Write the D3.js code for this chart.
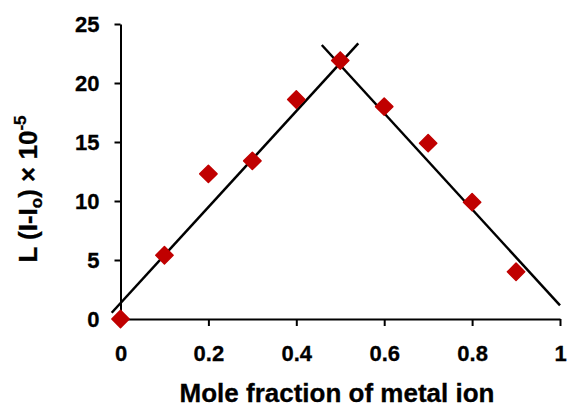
<!DOCTYPE html>
<html>
<head>
<meta charset="utf-8">
<script src="https://cdn.jsdelivr.net/npm/d3@7"></script>
<style>
  html, body { margin: 0; padding: 0; background: #fff; }
  svg { display: block; }
  text { font-family: "Liberation Sans", Arial, sans-serif; font-weight: bold; fill: #000; stroke: #000; stroke-width: 0.3; }
</style>
</head>
<body>
<svg id="chart" width="569" height="410"></svg>
<script>
// Job's plot: mole fraction of metal ion vs. L(I - Io) x 10^-5
const moleFraction = [0, 0.1, 0.2, 0.3, 0.4, 0.5, 0.6, 0.7, 0.8, 0.9];
const response     = [0, 5.4, 12.3, 13.4, 18.6, 21.9, 18.0, 14.9, 9.9, 4.0];

// Straight-line fits for the rising and falling branches (end points)
const risingFit  = [[-0.02, 0.53], [0.541, 23.36]];
const fallingFit = [[0.458, 23.22], [1.0, 1.15]];

const xTicks = [0, 0.2, 0.4, 0.6, 0.8, 1];
const yTicks = [0, 5, 10, 15, 20, 25];

const svg = d3.select("#chart");
const x = d3.scaleLinear().domain([0, 1]).range([120.5, 560]);
const y = d3.scaleLinear().domain([0, 25]).range([319, 24]);

// Axes
const xAxis = svg.append("g")
  .attr("transform", `translate(0,${y(0)})`)
  .call(d3.axisBottom(x).tickValues(xTicks).tickSize(7).tickSizeOuter(0)
    .tickFormat(d => d === 0 || d === 1 ? d3.format("d")(d) : d3.format(".1f")(d)));
xAxis.select(".domain").attr("stroke", "#000").attr("stroke-width", 2);
xAxis.selectAll(".tick line").attr("stroke", "#000").attr("stroke-width", 2);
xAxis.selectAll(".tick").filter(d => d === 0).select("line").remove();
xAxis.selectAll(".tick text").attr("font-size", 22).attr("dy", null).attr("y", 42);

const yAxis = svg.append("g")
  .attr("transform", `translate(${x(0)},0)`)
  .call(d3.axisLeft(y).tickValues(yTicks).tickSize(6).tickSizeOuter(0));
yAxis.select(".domain").attr("stroke", "#000").attr("stroke-width", 2);
yAxis.selectAll(".tick line").attr("stroke", "#000").attr("stroke-width", 2);
yAxis.selectAll(".tick text").attr("font-size", 22).attr("dy", "0.36em").attr("x", -21);

// Fit lines
const line = d3.line().x(d => x(d[0])).y(d => y(d[1]));
[risingFit, fallingFit].forEach(seg => {
  svg.append("path").attr("d", line(seg))
    .attr("fill", "none").attr("stroke", "#000").attr("stroke-width", 2.5);
});

// Data markers (red diamonds)
const diamond = d3.symbol().type(d3.symbolSquare).size(150);
svg.append("g").selectAll("path")
  .data(moleFraction.map((m, i) => [m, response[i]]))
  .join("path")
  .attr("d", diamond)
  .attr("transform", d => `translate(${x(d[0])},${y(d[1])}) rotate(45)`)
  .attr("fill", "#c00000")
  .attr("stroke", "#c00000")
  .attr("stroke-width", 1.5)
  .attr("stroke-linejoin", "round");

// Axis titles
svg.append("text")
  .attr("x", 337).attr("y", 402)
  .attr("text-anchor", "middle")
  .attr("font-size", 26)
  .text("Mole fraction of metal ion");

const yTitle = svg.append("text")
  .attr("transform", "translate(37,189) rotate(-90)")
  .attr("text-anchor", "middle")
  .attr("font-size", 26);
yTitle.append("tspan").text("L (I-I");
yTitle.append("tspan").attr("font-size", 17).attr("dy", 5).text("o");
yTitle.append("tspan").attr("dy", -5).text(") \u00d7 10");
yTitle.append("tspan").attr("font-size", 17).attr("dy", -11).text("-5");
</script>
</body>
</html>
